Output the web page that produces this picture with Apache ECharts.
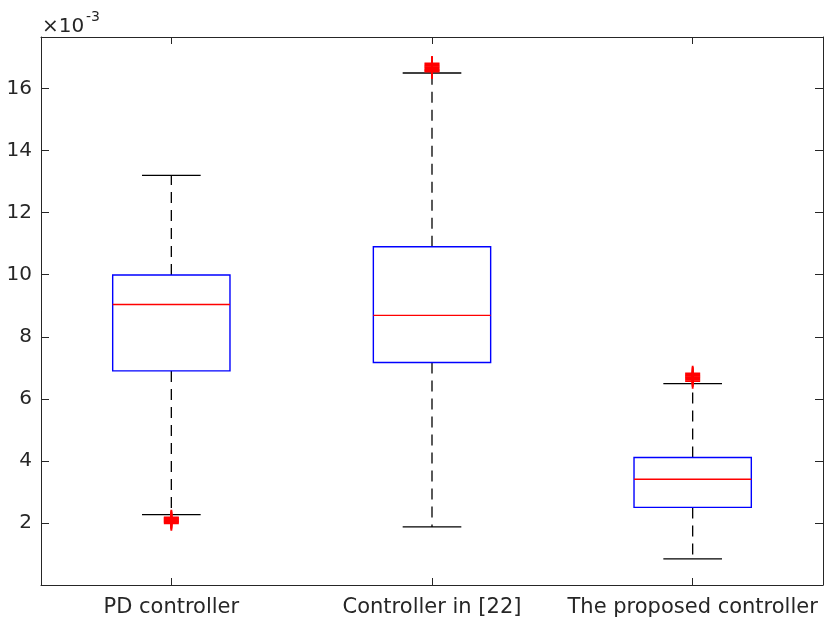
<!DOCTYPE html>
<html>
<head>
<meta charset="utf-8">
<script src="https://cdn.jsdelivr.net/npm/echarts@6/dist/echarts.min.js"></script>
<style>
html,body{margin:0;padding:0;background:#fff;}
#chart{width:824px;height:621px;}
</style>
</head>
<body>
<div id="chart"></div>
<script>
// ---- data (values in units of 1e-3) ----
const categories = ['PD controller', 'Controller in [22]', 'The proposed controller'];
const lowerWhisker = [2.27, 1.87, 0.84];
const q1 = [6.90, 7.17, 2.50];
const median = [9.04, 8.69, 3.41];
const q3 = [9.99, 10.90, 4.11];
const upperWhisker = [13.20, 16.50, 6.49];
const pdOutliers = [2.18, 2.15, 2.12, 2.09, 2.06, 2.03, 1.99];
const c22Outliers = [16.81, 16.77, 16.73, 16.69, 16.65, 16.61, 16.58, 16.55];
const proposedOutliers = [6.82, 6.78, 6.74, 6.70, 6.66, 6.62, 6.57];
const yTicks = { min: 0, max: 17.66, interval: 2 };

const boxRows = categories.map((c, i) => [i, lowerWhisker[i], q1[i], median[i], q3[i], upperWhisker[i]]);
const outlierPoints = [];
[pdOutliers, c22Outliers, proposedOutliers].forEach((arr, i) => arr.forEach(v => outlierPoints.push([i, v])));

const FONT = 'DejaVu Sans';
const AX = '#262626';
const plusPath = 'path://M7,0H9V7H16V9H9V16H7V9H0V7H7Z';

function renderBox(params, api) {
  const i = api.value(0);
  const pLo = api.coord([i, api.value(1)]);
  const pQ1 = api.coord([i, api.value(2)]);
  const pMed = api.coord([i, api.value(3)]);
  const pQ3 = api.coord([i, api.value(4)]);
  const pHi = api.coord([i, api.value(5)]);
  const band = api.size([1, 0])[0];
  const hb = band * 0.225;
  const hc = band * 0.1125;
  const x = pMed[0];
  const dash = { stroke: '#000', lineWidth: 1.3, lineDash: [11, 7] };
  const solid = { stroke: '#000', lineWidth: 1.3 };
  return {
    type: 'group',
    children: [
      { type: 'line', shape: { x1: x, y1: pQ3[1], x2: x, y2: pHi[1] }, style: dash },
      { type: 'line', shape: { x1: x, y1: pQ1[1], x2: x, y2: pLo[1] }, style: dash },
      { type: 'line', shape: { x1: x - hc, y1: pHi[1], x2: x + hc, y2: pHi[1] }, style: solid },
      { type: 'line', shape: { x1: x - hc, y1: pLo[1], x2: x + hc, y2: pLo[1] }, style: solid },
      { type: 'rect', shape: { x: x - hb, y: pQ3[1], width: 2 * hb, height: pQ1[1] - pQ3[1] },
        style: { fill: 'none', stroke: '#0000ff', lineWidth: 1.4 } },
      { type: 'line', shape: { x1: x - hb, y1: pMed[1], x2: x + hb, y2: pMed[1] },
        style: { stroke: '#ff0000', lineWidth: 1.4 } }
    ]
  };
}

const chart = echarts.init(document.getElementById('chart'), null, { renderer: 'canvas' });
const yBase = {
  type: 'value', min: yTicks.min, max: yTicks.max, interval: yTicks.interval,
  splitLine: { show: false },
  axisLine: { show: true, lineStyle: { color: AX, width: 1 } },
  axisTick: { show: true, inside: true, length: 8, lineStyle: { color: AX } }
};
const xBase = {
  type: 'category', data: categories, boundaryGap: true,
  splitLine: { show: false },
  axisLine: { show: true, onZero: false, lineStyle: { color: AX, width: 1 } },
  axisTick: { show: true, inside: true, length: 7, alignWithLabel: true, interval: 0, lineStyle: { color: AX } }
};
chart.setOption({
  animation: false,
  backgroundColor: '#fff',
  grid: { left: 41, right: 1, top: 37, bottom: 36, containLabel: false },
  xAxis: [
    Object.assign({}, xBase, { position: 'bottom',
      axisLabel: { show: true, interval: 0, hideOverlap: false, fontFamily: FONT, fontSize: 21, color: AX, margin: 12 } }),
    Object.assign({}, xBase, { position: 'top', axisLabel: { show: false } })
  ],
  yAxis: [
    Object.assign({}, yBase, { position: 'left',
      axisLabel: { show: true, fontFamily: FONT, fontSize: 20, color: AX, margin: 9,
        showMinLabel: false, showMaxLabel: false,
        formatter: v => (v > 0.5 && Math.abs(v - Math.round(v)) < 1e-6) ? String(Math.round(v)) : '' } }),
    Object.assign({}, yBase, { position: 'right', axisLabel: { show: false } })
  ],
  series: [
    {
      type: 'custom', xAxisIndex: 0, yAxisIndex: 0,
      renderItem: renderBox,
      encode: { x: 0, y: [1, 2, 3, 4, 5] },
      data: boxRows, z: 2
    },
    {
      type: 'scatter', xAxisIndex: 0, yAxisIndex: 0,
      symbol: plusPath, symbolSize: 15,
      itemStyle: { color: '#ff0000', opacity: 1 },
      data: outlierPoints, z: 3
    }
  ],
  graphic: [
    { type: 'text', x: 42, y: 17, style: { text: '×10', fontFamily: FONT, fontSize: 20, fill: AX, align: 'left', verticalAlign: 'top' } },
    { type: 'text', x: 86, y: 10, style: { text: '-3', fontFamily: FONT, fontSize: 14, fill: AX, align: 'left', verticalAlign: 'top' } }
  ]
});
</script>
</body>
</html>
